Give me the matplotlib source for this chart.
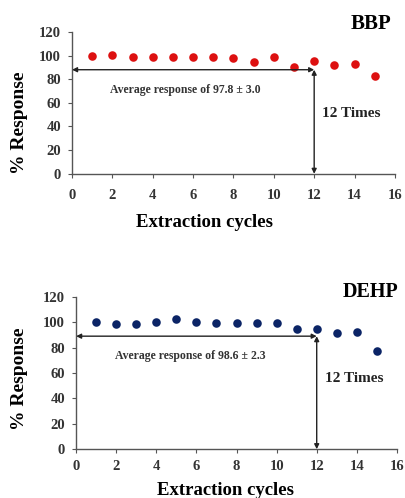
import matplotlib
matplotlib.use('Agg')
import matplotlib.pyplot as plt

# data
cycles = list(range(1, 16))
bbp_response = [100, 100.5, 99, 98.5, 99, 99, 98.5, 97.5, 94.7, 98.9, 90, 95, 92, 92.6, 82.6]
dehp_response = [100, 98.2, 98.2, 100, 102.6, 100, 99, 99, 99, 99, 94.8, 94.8, 91.6, 92, 77.4]

bbp_avg_text = 'Average response of 97.8 \u00b1 3.0'
dehp_avg_text = 'Average response of 98.6 \u00b1 2.3'
arrow_level = [88, 89]
times_cycle = 12

plt.rcParams['font.family'] = ['Liberation Serif', 'DejaVu Serif']
plt.rcParams['font.weight'] = 'bold'

fig = plt.figure(figsize=(4.05, 4.98), dpi=100)
ax1 = fig.add_axes([0.178, 0.651, 0.797, 0.285])
ax2 = fig.add_axes([0.188, 0.098, 0.792, 0.306])


def draw_panel(ax, y, color, name, avg_text, level, text_x, text_y, times_y,
               xpad, ylab_pos, xlab_pos, title_pos, title_size):
    ax.scatter(cycles, y, s=38, color=color, zorder=3, linewidths=0)
    ax.set_xlim(0, 16)
    ax.set_ylim(0, 120)
    ax.set_xticks(range(0, 17, 2))
    ax.set_yticks(range(0, 121, 20))
    for s in ['top', 'right']:
        ax.spines[s].set_visible(False)
    for s in ['left', 'bottom']:
        ax.spines[s].set_color('#555555')
        ax.spines[s].set_linewidth(1.0)
    ax.tick_params(labelsize=10.5, length=3, color='#555555')
    ax.tick_params(axis='x', pad=xpad)
    ax.tick_params(axis='y', pad=5)
    for lab in ax.get_xticklabels() + ax.get_yticklabels():
        lab.set_fontweight('bold')
        lab.set_color('#333333')
    ax.set_ylabel('% Response', fontsize=14, fontweight='bold')
    ax.yaxis.set_label_coords(*ylab_pos)
    ax.set_xlabel('Extraction cycles', fontsize=13.5, fontweight='bold')
    ax.xaxis.set_label_coords(*xlab_pos)

    # horizontal double arrow
    ax.annotate('', xy=(0, level), xytext=(times_cycle, level),
                arrowprops=dict(arrowstyle='<|-|>', color='#222222', lw=1.0,
                                mutation_scale=7, shrinkA=0, shrinkB=0))
    # vertical double arrow
    ax.annotate('', xy=(times_cycle, 0), xytext=(times_cycle, level),
                arrowprops=dict(arrowstyle='<|-|>', color='#222222', lw=1.0,
                                mutation_scale=7, shrinkA=0, shrinkB=0))
    ax.text(text_x, text_y, avg_text, fontsize=8.5, fontweight='bold',
            ha='center', va='center', color='#333333')
    ax.text(12.4, times_y, '12 Times', fontsize=11, fontweight='bold',
            ha='left', va='center', color='#222222')
    ax.text(title_pos[0], title_pos[1], name, transform=ax.transAxes,
            fontsize=title_size, fontweight='bold', ha='right', va='center')


draw_panel(ax1, bbp_response, '#dd1111', 'BBP', bbp_avg_text, arrow_level[0],
           5.6, 71, 51, 8, (-0.136, 0.36), (0.41, -0.28), (0.99, 1.055), 15)
draw_panel(ax2, dehp_response, '#0b2466', 'DEHP', dehp_avg_text, arrow_level[1],
           5.7, 73, 56, 5, (-0.15, 0.46), (0.467, -0.212), (1.005, 1.03), 14.5)

fig.savefig('out.png', dpi=100)
